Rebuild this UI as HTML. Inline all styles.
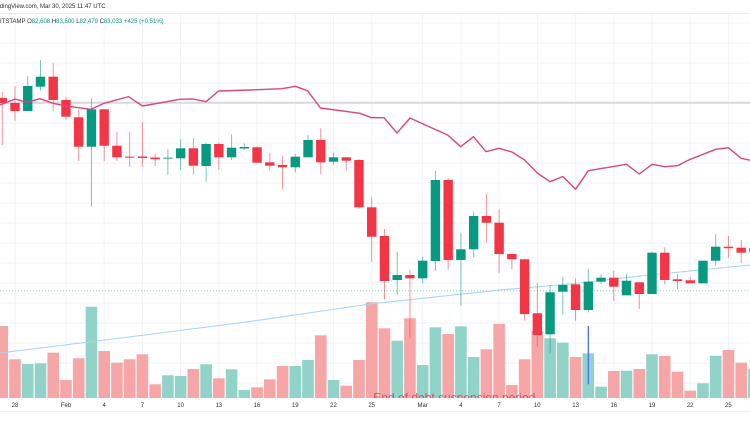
<!DOCTYPE html>
<html><head><meta charset="utf-8"><style>
html,body{margin:0;padding:0;background:#fff;}
svg{display:block;}
text{font-family:"Liberation Sans",sans-serif;}
</style></head><body>
<svg width="750" height="430" viewBox="0 0 750 430" xmlns="http://www.w3.org/2000/svg">
<rect width="750" height="430" fill="#fff"/>
<defs><clipPath id="pane"><rect x="0" y="13" width="750" height="385"/></clipPath></defs>
<!-- grid -->
<g stroke="#f0f2f6" stroke-width="1">
<line x1="0" y1="13.5" x2="750" y2="13.5" stroke="#e9ebf0"/>
<line x1="0" y1="23" x2="750" y2="23"/><line x1="0" y1="43" x2="750" y2="43"/><line x1="0" y1="63" x2="750" y2="63"/><line x1="0" y1="83" x2="750" y2="83"/>
<line x1="0" y1="123" x2="750" y2="123"/><line x1="0" y1="143" x2="750" y2="143"/><line x1="0" y1="163" x2="750" y2="163"/><line x1="0" y1="183" x2="750" y2="183"/>
<line x1="0" y1="203" x2="750" y2="203"/><line x1="0" y1="223" x2="750" y2="223"/><line x1="0" y1="243" x2="750" y2="243"/><line x1="0" y1="263" x2="750" y2="263"/>
<line x1="0" y1="283" x2="750" y2="283"/><line x1="0" y1="303" x2="750" y2="303"/><line x1="0" y1="323" x2="750" y2="323"/><line x1="0" y1="343" x2="750" y2="343"/>
<line x1="0" y1="363" x2="750" y2="363"/><line x1="0" y1="383" x2="750" y2="383"/>
<line x1="0" y1="411.5" x2="750" y2="411.5" stroke="#eceef2"/>
<line x1="15" y1="13" x2="15" y2="398"/><line x1="66" y1="13" x2="66" y2="398"/><line x1="104.2" y1="13" x2="104.2" y2="398"/><line x1="142.4" y1="13" x2="142.4" y2="398"/>
<line x1="180.6" y1="13" x2="180.6" y2="398"/><line x1="218.8" y1="13" x2="218.8" y2="398"/><line x1="257" y1="13" x2="257" y2="398"/><line x1="295.3" y1="13" x2="295.3" y2="398"/>
<line x1="333.5" y1="13" x2="333.5" y2="398"/><line x1="371.7" y1="13" x2="371.7" y2="398"/><line x1="422.7" y1="13" x2="422.7" y2="398"/><line x1="460.9" y1="13" x2="460.9" y2="398"/>
<line x1="499.1" y1="13" x2="499.1" y2="398"/><line x1="537.3" y1="13" x2="537.3" y2="398"/><line x1="575.6" y1="13" x2="575.6" y2="398"/><line x1="613.8" y1="13" x2="613.8" y2="398"/>
<line x1="652" y1="13" x2="652" y2="398"/><line x1="690.2" y1="13" x2="690.2" y2="398"/><line x1="728.4" y1="13" x2="728.4" y2="398"/>
</g>
<!-- horizontal level line -->
<line x1="0" y1="102.7" x2="750" y2="102.7" stroke="#d6d8de" stroke-width="2"/>
<!-- volume -->
<g>
<rect x="-3.54" y="326" width="11.6" height="72" fill="#f6a6a7"/>
<rect x="9.2" y="359.3" width="11.6" height="38.7" fill="#f6a6a7"/>
<rect x="21.94" y="364" width="11.6" height="34" fill="#91d2c9"/>
<rect x="34.68" y="363.3" width="11.6" height="34.7" fill="#91d2c9"/>
<rect x="47.42" y="352.7" width="11.6" height="45.3" fill="#f6a6a7"/>
<rect x="60.16" y="380" width="11.6" height="18" fill="#f6a6a7"/>
<rect x="72.9" y="358.3" width="11.6" height="39.7" fill="#f6a6a7"/>
<rect x="85.64" y="306.7" width="11.6" height="91.3" fill="#91d2c9"/>
<rect x="98.38" y="351" width="11.6" height="47" fill="#f6a6a7"/>
<rect x="111.12" y="362.7" width="11.6" height="35.3" fill="#f6a6a7"/>
<rect x="123.86" y="359.3" width="11.6" height="38.7" fill="#f6a6a7"/>
<rect x="136.6" y="354.3" width="11.6" height="43.7" fill="#f6a6a7"/>
<rect x="149.34" y="384.3" width="11.6" height="13.7" fill="#f6a6a7"/>
<rect x="162.08" y="375.3" width="11.6" height="22.7" fill="#91d2c9"/>
<rect x="174.82" y="376" width="11.6" height="22" fill="#91d2c9"/>
<rect x="187.56" y="369" width="11.6" height="29" fill="#f6a6a7"/>
<rect x="200.3" y="364.3" width="11.6" height="33.7" fill="#91d2c9"/>
<rect x="213.04" y="378.3" width="11.6" height="19.7" fill="#f6a6a7"/>
<rect x="225.78" y="369.3" width="11.6" height="28.7" fill="#91d2c9"/>
<rect x="238.52" y="390" width="11.6" height="8" fill="#91d2c9"/>
<rect x="251.26" y="387.3" width="11.6" height="10.7" fill="#f6a6a7"/>
<rect x="264" y="379.3" width="11.6" height="18.7" fill="#f6a6a7"/>
<rect x="276.74" y="366" width="11.6" height="32" fill="#f6a6a7"/>
<rect x="289.48" y="366" width="11.6" height="32" fill="#91d2c9"/>
<rect x="302.22" y="360" width="11.6" height="38" fill="#91d2c9"/>
<rect x="314.96" y="335.3" width="11.6" height="62.7" fill="#f6a6a7"/>
<rect x="327.7" y="380" width="11.6" height="18" fill="#91d2c9"/>
<rect x="340.44" y="385.7" width="11.6" height="12.3" fill="#f6a6a7"/>
<rect x="353.18" y="360" width="11.6" height="38" fill="#f6a6a7"/>
<rect x="365.92" y="302.3" width="11.6" height="95.7" fill="#f6a6a7"/>
<rect x="378.66" y="328.3" width="11.6" height="69.7" fill="#f6a6a7"/>
<rect x="391.4" y="340.7" width="11.6" height="57.3" fill="#91d2c9"/>
<rect x="404.14" y="318.3" width="11.6" height="79.7" fill="#f6a6a7"/>
<rect x="416.88" y="365" width="11.6" height="33" fill="#91d2c9"/>
<rect x="429.62" y="327.3" width="11.6" height="70.7" fill="#91d2c9"/>
<rect x="442.36" y="334" width="11.6" height="64" fill="#f6a6a7"/>
<rect x="455.1" y="326.3" width="11.6" height="71.7" fill="#91d2c9"/>
<rect x="467.84" y="357" width="11.6" height="41" fill="#91d2c9"/>
<rect x="480.58" y="349.3" width="11.6" height="48.7" fill="#f6a6a7"/>
<rect x="493.32" y="324" width="11.6" height="74" fill="#f6a6a7"/>
<rect x="506.06" y="385" width="11.6" height="13" fill="#f6a6a7"/>
<rect x="518.8" y="359.3" width="11.6" height="38.7" fill="#f6a6a7"/>
<rect x="531.54" y="331" width="11.6" height="67" fill="#f6a6a7"/>
<rect x="544.28" y="338.3" width="11.6" height="59.7" fill="#91d2c9"/>
<rect x="557.02" y="342.7" width="11.6" height="55.3" fill="#91d2c9"/>
<rect x="569.76" y="357" width="11.6" height="41" fill="#f6a6a7"/>
<rect x="582.5" y="353.3" width="11.6" height="44.7" fill="#91d2c9"/>
<rect x="595.24" y="386.7" width="11.6" height="11.3" fill="#91d2c9"/>
<rect x="607.98" y="371" width="11.6" height="27" fill="#f6a6a7"/>
<rect x="620.72" y="370.7" width="11.6" height="27.3" fill="#91d2c9"/>
<rect x="633.46" y="369" width="11.6" height="29" fill="#f6a6a7"/>
<rect x="646.2" y="354.3" width="11.6" height="43.7" fill="#91d2c9"/>
<rect x="658.94" y="356" width="11.6" height="42" fill="#f6a6a7"/>
<rect x="671.68" y="371.7" width="11.6" height="26.3" fill="#f6a6a7"/>
<rect x="684.42" y="390.7" width="11.6" height="7.3" fill="#f6a6a7"/>
<rect x="697.16" y="383.3" width="11.6" height="14.7" fill="#91d2c9"/>
<rect x="709.9" y="355.7" width="11.6" height="42.3" fill="#91d2c9"/>
<rect x="722.64" y="350" width="11.6" height="48" fill="#f6a6a7"/>
<rect x="735.38" y="362.7" width="11.6" height="35.3" fill="#f6a6a7"/>
<rect x="748.12" y="369" width="11.6" height="29" fill="#91d2c9"/>
</g>
<!-- light blue MA -->
<polyline points="0,353 125,337.5 250,321.5 370,304 500,290 570,284 650,275 750,265" fill="none" stroke="#a9d5ef" stroke-width="1.1"/>
<!-- price line -->
<line x1="0" y1="290.7" x2="750" y2="290.7" stroke="#8fcfc4" stroke-width="1" stroke-dasharray="1,2"/>
<!-- wicks -->
<g stroke-width="1" clip-path="url(#pane)">
<g stroke="#f23645" opacity="0.55">
<line x1="2.26" y1="92" x2="2.26" y2="145"/><line x1="15" y1="86" x2="15" y2="121"/><line x1="53.22" y1="63.3" x2="53.22" y2="110.7"/><line x1="65.96" y1="96.7" x2="65.96" y2="120"/>
<line x1="78.7" y1="110" x2="78.7" y2="161"/><line x1="104.18" y1="109.3" x2="104.18" y2="161"/><line x1="116.92" y1="131.7" x2="116.92" y2="161"/><line x1="129.66" y1="131.7" x2="129.66" y2="166.7"/>
<line x1="142.4" y1="121.7" x2="142.4" y2="166.7"/><line x1="155.14" y1="154" x2="155.14" y2="166"/><line x1="193.36" y1="138.3" x2="193.36" y2="174.3"/><line x1="218.84" y1="142.3" x2="218.84" y2="170"/>
<line x1="257.06" y1="146" x2="257.06" y2="162.7"/><line x1="269.8" y1="152.7" x2="269.8" y2="170.7"/><line x1="282.54" y1="155.7" x2="282.54" y2="189"/><line x1="320.76" y1="128.3" x2="320.76" y2="174.3"/>
<line x1="346.24" y1="157.3" x2="346.24" y2="170.7"/><line x1="358.98" y1="159" x2="358.98" y2="209"/><line x1="371.72" y1="197.3" x2="371.72" y2="261.7"/><line x1="384.46" y1="229" x2="384.46" y2="299.3"/>
<line x1="409.94" y1="270" x2="409.94" y2="338.3"/><line x1="448.16" y1="178.3" x2="448.16" y2="270"/><line x1="486.38" y1="194" x2="486.38" y2="242.7"/><line x1="499.12" y1="209.3" x2="499.12" y2="273.3"/>
<line x1="511.86" y1="254" x2="511.86" y2="269.3"/><line x1="524.6" y1="258.3" x2="524.6" y2="320.7"/><line x1="537.34" y1="283" x2="537.34" y2="346.7"/><line x1="575.56" y1="278.3" x2="575.56" y2="320.7"/>
<line x1="613.78" y1="270.7" x2="613.78" y2="300.7"/><line x1="639.26" y1="282.3" x2="639.26" y2="309"/><line x1="664.74" y1="247.3" x2="664.74" y2="284.3"/><line x1="677.48" y1="274" x2="677.48" y2="289.3"/>
<line x1="690.22" y1="276.7" x2="690.22" y2="283.3"/><line x1="728.44" y1="236" x2="728.44" y2="257.7"/><line x1="741.18" y1="240" x2="741.18" y2="262.7"/>
</g>
<g stroke="#089981" opacity="0.55">
<line x1="27.74" y1="76" x2="27.74" y2="111"/><line x1="40.48" y1="60" x2="40.48" y2="90.7"/><line x1="91.44" y1="98.3" x2="91.44" y2="206.7"/><line x1="167.88" y1="149.3" x2="167.88" y2="175"/>
<line x1="180.62" y1="139.3" x2="180.62" y2="170"/><line x1="206.1" y1="143" x2="206.1" y2="181.7"/><line x1="231.58" y1="134.3" x2="231.58" y2="160"/><line x1="244.32" y1="143.3" x2="244.32" y2="150"/>
<line x1="295.28" y1="154" x2="295.28" y2="172.3"/><line x1="308.02" y1="135" x2="308.02" y2="157.3"/><line x1="333.5" y1="152.7" x2="333.5" y2="165"/><line x1="397.2" y1="251.7" x2="397.2" y2="295"/>
<line x1="422.68" y1="256.7" x2="422.68" y2="283.3"/><line x1="435.42" y1="171" x2="435.42" y2="271"/><line x1="460.9" y1="232.7" x2="460.9" y2="305.7"/><line x1="473.64" y1="211.7" x2="473.64" y2="257.3"/>
<line x1="550.08" y1="285" x2="550.08" y2="353.3"/><line x1="562.82" y1="277" x2="562.82" y2="314.3"/><line x1="588.3" y1="269" x2="588.3" y2="312.3"/><line x1="601.04" y1="274.3" x2="601.04" y2="284"/>
<line x1="626.52" y1="274" x2="626.52" y2="295.3"/><line x1="652" y1="251.7" x2="652" y2="294"/><line x1="702.96" y1="260.7" x2="702.96" y2="283.3"/><line x1="715.7" y1="234.3" x2="715.7" y2="265.7"/>
<line x1="753.92" y1="244" x2="753.92" y2="256"/>
</g>
</g>
<!-- bodies -->
<g fill="#f23645">
<rect x="-2.44" y="98" width="9.4" height="5"/>
<rect x="10.3" y="103" width="9.4" height="8"/>
<rect x="48.52" y="76.7" width="9.4" height="23.3"/>
<rect x="61.26" y="100" width="9.4" height="16.7"/>
<rect x="74" y="117.3" width="9.4" height="29.4"/>
<rect x="99.48" y="109.3" width="9.4" height="36.4"/>
<rect x="112.22" y="145.7" width="9.4" height="11.6"/>
<rect x="124.96" y="156.5" width="9.4" height="1.5" opacity="0.7"/>
<rect x="137.7" y="156.5" width="9.4" height="1.5"/>
<rect x="150.44" y="157.5" width="9.4" height="1.8"/>
<rect x="188.66" y="148.3" width="9.4" height="17.4"/>
<rect x="214.14" y="144" width="9.4" height="13.3"/>
<rect x="252.36" y="147.3" width="9.4" height="15.4"/>
<rect x="265.1" y="162.3" width="9.4" height="3.4"/>
<rect x="277.84" y="165" width="9.4" height="2.3"/>
<rect x="316.06" y="140" width="9.4" height="22.3"/>
<rect x="341.54" y="157.3" width="9.4" height="3.4"/>
<rect x="354.28" y="160" width="9.4" height="47.3"/>
<rect x="367.02" y="207.3" width="9.4" height="29.4"/>
<rect x="379.76" y="236" width="9.4" height="45"/>
<rect x="405.24" y="275" width="9.4" height="3.3"/>
<rect x="443.46" y="180" width="9.4" height="80"/>
<rect x="481.68" y="216" width="9.4" height="6.7"/>
<rect x="494.42" y="222.7" width="9.4" height="31.3"/>
<rect x="507.16" y="254" width="9.4" height="5.3"/>
<rect x="519.9" y="259.3" width="9.4" height="54.7"/>
<rect x="532.64" y="313.3" width="9.4" height="21.7"/>
<rect x="570.86" y="284.3" width="9.4" height="25.7"/>
<rect x="609.08" y="277.7" width="9.4" height="9"/>
<rect x="634.56" y="282.3" width="9.4" height="11.7"/>
<rect x="660.04" y="252.7" width="9.4" height="27.3"/>
<rect x="672.78" y="279.3" width="9.4" height="1.7"/>
<rect x="685.52" y="280.3" width="9.4" height="3"/>
<rect x="723.74" y="246.7" width="9.4" height="1.5"/>
<rect x="736.48" y="247.7" width="9.4" height="5"/>
</g>
<g fill="#089981">
<rect x="23.04" y="86" width="9.4" height="25"/>
<rect x="35.78" y="76.7" width="9.4" height="10"/>
<rect x="86.74" y="109.3" width="9.4" height="37.4"/>
<rect x="163.18" y="157.5" width="9.4" height="1.5" opacity="0.6"/>
<rect x="175.92" y="148.3" width="9.4" height="10"/>
<rect x="201.4" y="144" width="9.4" height="22"/>
<rect x="226.88" y="147.7" width="9.4" height="9.6"/>
<rect x="239.62" y="147" width="9.4" height="1.5"/>
<rect x="290.58" y="156.7" width="9.4" height="10.6"/>
<rect x="303.32" y="140" width="9.4" height="17.3"/>
<rect x="328.8" y="157.3" width="9.4" height="4.4"/>
<rect x="392.5" y="275" width="9.4" height="5"/>
<rect x="417.98" y="260.7" width="9.4" height="17.6"/>
<rect x="430.72" y="180" width="9.4" height="81"/>
<rect x="456.2" y="249.3" width="9.4" height="10.7"/>
<rect x="468.94" y="216" width="9.4" height="33.3"/>
<rect x="545.38" y="292.3" width="9.4" height="42"/>
<rect x="558.12" y="285" width="9.4" height="6.7"/>
<rect x="583.6" y="281.7" width="9.4" height="28.3"/>
<rect x="596.34" y="277.7" width="9.4" height="4"/>
<rect x="621.82" y="280.7" width="9.4" height="14.6"/>
<rect x="647.3" y="252.7" width="9.4" height="41.3"/>
<rect x="698.26" y="260.7" width="9.4" height="22.6"/>
<rect x="711" y="246.7" width="9.4" height="14"/>
<rect x="749.22" y="248" width="9.4" height="4"/>
</g>
<!-- pink MA -->
<polyline fill="none" stroke="#d9477e" stroke-width="1.4" stroke-linejoin="round" points="0,105 15,99 27,102.3 40,98.7 53,103.3 66,106 78.5,107.7 91,109.3 104,103.3 128.5,96.7 142.5,106 180,99.3 193,99 206,101.7 218.5,91 250,90 282,88.7 295.3,86.3 307.5,90.7 320.5,108 360,113.3 371.7,117.7 384,117.7 397,133 410,118 448,135.3 460.7,146.7 473.5,136.7 486,151.7 499,148.3 511.9,152 524.6,160 537.3,173 550,181.7 562.8,176.5 575.5,189.3 588.3,170.7 626.5,164.3 639.3,174 652,164.3 664.7,166.7 677.5,165.7 690.2,159.3 715.7,149.3 728.4,147.7 741.2,158.3 754,161"/>
<!-- blue vertical line -->
<line x1="588.3" y1="326" x2="588.3" y2="384.3" stroke="#4a6cf7" stroke-width="1.3"/>
<!-- annotation text clipped -->
<g clip-path="url(#pane)">
<text x="373.3" y="401.5" font-size="12" fill="#f23645" opacity="0.9">End of debt suspension period</text>
</g>
<!-- header -->
<text x="-9" y="8" font-size="6" fill="#2a2e39">TradingView.com, Mar 30, 2025 11:47 UTC</text>
<text x="-4" y="23.2" font-size="6" fill="#2a2e39">BITSTAMP <tspan>O</tspan><tspan fill="#089981">82,608</tspan> <tspan>H</tspan><tspan fill="#089981">83,500</tspan> <tspan>L</tspan><tspan fill="#089981">82,479</tspan> <tspan>C</tspan><tspan fill="#089981">83,033</tspan> <tspan fill="#089981">+425 (+0.51%)</tspan></text>
<!-- x axis labels -->
<g font-size="6" fill="#2a2e39" text-anchor="middle">
<text x="15" y="407.2">28</text><text x="66" y="407.2">Feb</text><text x="104.2" y="407.2">4</text><text x="142.4" y="407.2">7</text>
<text x="180.6" y="407.2">10</text><text x="218.8" y="407.2">13</text><text x="257" y="407.2">16</text><text x="295.3" y="407.2">19</text>
<text x="333.5" y="407.2">22</text><text x="371.7" y="407.2">25</text><text x="422.7" y="407.2">Mar</text><text x="460.9" y="407.2">4</text>
<text x="499.1" y="407.2">7</text><text x="537.3" y="407.2">10</text><text x="575.6" y="407.2">13</text><text x="613.8" y="407.2">16</text>
<text x="652" y="407.2">19</text><text x="690.2" y="407.2">22</text><text x="728.4" y="407.2">25</text>
</g>
</svg>
</body></html>
